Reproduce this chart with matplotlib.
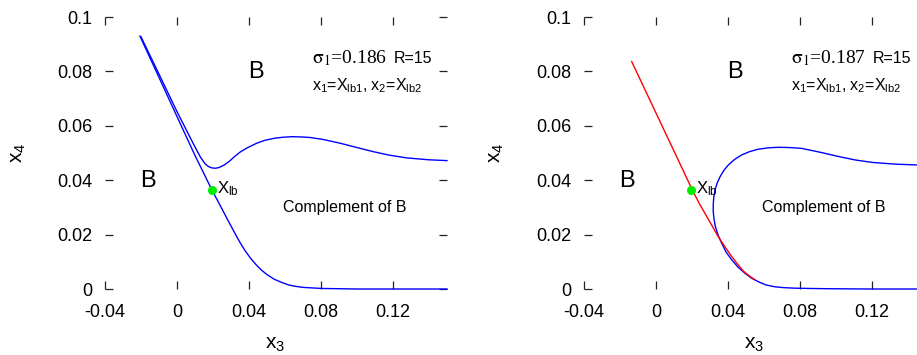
import matplotlib
matplotlib.use("Agg")
import matplotlib.pyplot as plt

plt.rcParams['font.family'] = ['Liberation Sans', 'DejaVu Sans']
plt.rcParams['mathtext.fontset'] = 'custom'
plt.rcParams['mathtext.rm'] = 'Liberation Sans'
plt.rcParams['mathtext.it'] = 'Liberation Sans'
plt.rcParams['mathtext.bf'] = 'Liberation Sans:bold'
plt.rcParams['axes.unicode_minus'] = False

# ---------------- data ----------------
xticks = [-0.04, 0.0, 0.04, 0.08, 0.12]
xtick_labels = ['-0.04', '0', '0.04', '0.08', '0.12']
yticks = [0.0, 0.02, 0.04, 0.06, 0.08, 0.1]
ytick_labels = ['0', '0.02', '0.04', '0.06', '0.08', '0.1']

# left panel (sigma1 = 0.186)
left_lower_x = [-0.0206, -0.010, 0.000, 0.010, 0.0194, 0.0240, 0.0285, 0.0320, 0.0350,
                0.0380, 0.0410, 0.0440, 0.0470, 0.0500, 0.0540, 0.0582, 0.0620, 0.0656,
                0.0700, 0.0750, 0.0804, 0.0900, 0.1000, 0.1500]
left_lower_y = [0.0930, 0.0778, 0.0634, 0.0491, 0.0364, 0.0307, 0.0250, 0.0207, 0.0171,
                0.0139, 0.0112, 0.0089, 0.0069, 0.0053, 0.0036, 0.0024, 0.0015, 0.0010,
                0.0006, 0.0004, 0.0002, 0.0001, 0.0000, 0.0000]
left_upper_x = [-0.0200, -0.0100, 0.0000, 0.0060, 0.0100, 0.0130, 0.0155, 0.0175, 0.0195,
                0.0215, 0.0235, 0.0260, 0.0290, 0.0320, 0.0350, 0.0390, 0.0443, 0.0490,
                0.0540, 0.0590, 0.0640, 0.0690, 0.0740, 0.0810, 0.0906, 0.1000, 0.1090,
                0.1180, 0.1276, 0.1400, 0.1500]
left_upper_y = [0.0927, 0.0790, 0.0652, 0.0574, 0.0522, 0.0485, 0.0461, 0.0450, 0.0445,
                0.0444, 0.0447, 0.0455, 0.0469, 0.0487, 0.0503, 0.0519, 0.0536, 0.0547,
                0.0554, 0.0558, 0.0560, 0.0559, 0.0557, 0.0550, 0.0536, 0.0520, 0.0505,
                0.0492, 0.0482, 0.0475, 0.0472]

# right panel (sigma1 = 0.187)
right_red_x = [-0.0135, 0.000, 0.010, 0.0202, 0.0240, 0.0272, 0.0310, 0.0346, 0.0385,
               0.0421, 0.0455, 0.0485, 0.0520, 0.0550]
right_red_y = [0.0836, 0.0647, 0.0507, 0.0364, 0.0315, 0.0278, 0.0234, 0.0192, 0.0153,
               0.0119, 0.0090, 0.0066, 0.0047, 0.0034]
right_blue_x = [0.1500, 0.1200, 0.0960, 0.0850, 0.0772, 0.0710, 0.0661, 0.0610, 0.0568,
                0.0530, 0.0494, 0.0455, 0.0421, 0.0390, 0.0365, 0.0345, 0.0330, 0.0322,
                0.0318, 0.0318, 0.0321, 0.0328, 0.0340, 0.0356, 0.0377, 0.0402, 0.0436,
                0.0476, 0.0520, 0.0568, 0.0625, 0.0680, 0.0745, 0.0809, 0.0910, 0.1022,
                0.1110, 0.1207, 0.1330, 0.1448, 0.1500]
right_blue_y = [0.0000, 0.0000, 0.0001, 0.0002, 0.0003, 0.0005, 0.0008, 0.0015, 0.0027,
                0.0040, 0.0058, 0.0081, 0.0107, 0.0135, 0.0168, 0.0198, 0.0229, 0.0258,
                0.0285, 0.0310, 0.0337, 0.0364, 0.0390, 0.0413, 0.0436, 0.0456, 0.0476,
                0.0493, 0.0505, 0.0514, 0.0519, 0.0521, 0.0520, 0.0517, 0.0503, 0.0486,
                0.0474, 0.0465, 0.0459, 0.0456, 0.0455]

xlb_point = (0.0197, 0.0364)
sigma_labels = ['0.186', '0.187']

# ---------------- figure ----------------
W, H = 917, 355
fig = plt.figure(figsize=(W / 100, H / 100), dpi=100)

def px_axes(left_px):
    return [left_px / W, 1 - 289 / H, 342 / W, 272 / H]

ax1 = fig.add_axes(px_axes(105))
ax2 = fig.add_axes(px_axes(584))

def style(ax):
    ax.set_xlim(-0.04, 0.15)
    ax.set_ylim(0, 0.1)
    for s in ax.spines.values():
        s.set_visible(False)
    ax.set_xticks(xticks)
    ax.set_xticklabels(xtick_labels)
    ax.set_yticks(yticks)
    ax.set_yticklabels(ytick_labels)
    ax.tick_params(direction='in', length=5.5, width=0.9, color='#222222',
                   top=True, right=True, labelsize=13)
    ax.tick_params(axis='x', pad=11)
    ax.tick_params(axis='y', pad=9)
    ax.patch.set_alpha(0)

style(ax1)
style(ax2)

ax1.plot(left_lower_x, left_lower_y, color='#0000ff', lw=1.0, clip_on=False)
ax1.plot(left_upper_x, left_upper_y, color='#0000ff', lw=1.0, clip_on=False)

ax2.plot(right_blue_x, right_blue_y, color='#0000ff', lw=1.0, clip_on=False)
ax2.plot(right_red_x, right_red_y, color='#ff0000', lw=1.0, clip_on=False)

for ax, sig in zip([ax1, ax2], sigma_labels):
    ax.plot([xlb_point[0]], [xlb_point[1]], 'o', color='#00ee00', ms=6.5, mec='none', zorder=5)
    ax.text(xlb_point[0] + 0.0027, 0.0353, r'$X_{lb}$', fontsize=12, va='baseline', ha='left')
    ax.text(0.0439, 0.0798, 'B', fontsize=17, ha='center', va='center')
    ax.text(-0.0161, 0.0397, 'B', fontsize=17, ha='center', va='center')
    ax.text(0.0933, 0.0298, 'Complement of B', fontsize=11.5, ha='center', va='center')
    ax.text(0.075, 0.0831, r'$\mathrm{σ}_1$=' + sig, fontsize=14,
            family='Liberation Serif', math_fontfamily='stix', ha='left', va='baseline')
    ax.text(0.1205, 0.0831, 'R=15', fontsize=11.5, ha='left', va='baseline')
    ax.text(0.075, 0.0732, r'$x_1$=$X_{lb1}$, $x_2$=$X_{lb2}$', fontsize=11.5,
            ha='left', va='baseline')

for off in [0, 479]:
    fig.text((275 + off) / W, 1 - 344 / H, r'$x_3$', fontsize=15, ha='center', va='center')
    fig.text((18 + off) / W, 1 - 153 / H, r'$x_4$', fontsize=15, ha='center', va='center',
             rotation=90)

fig.savefig('out.png', dpi=100)
